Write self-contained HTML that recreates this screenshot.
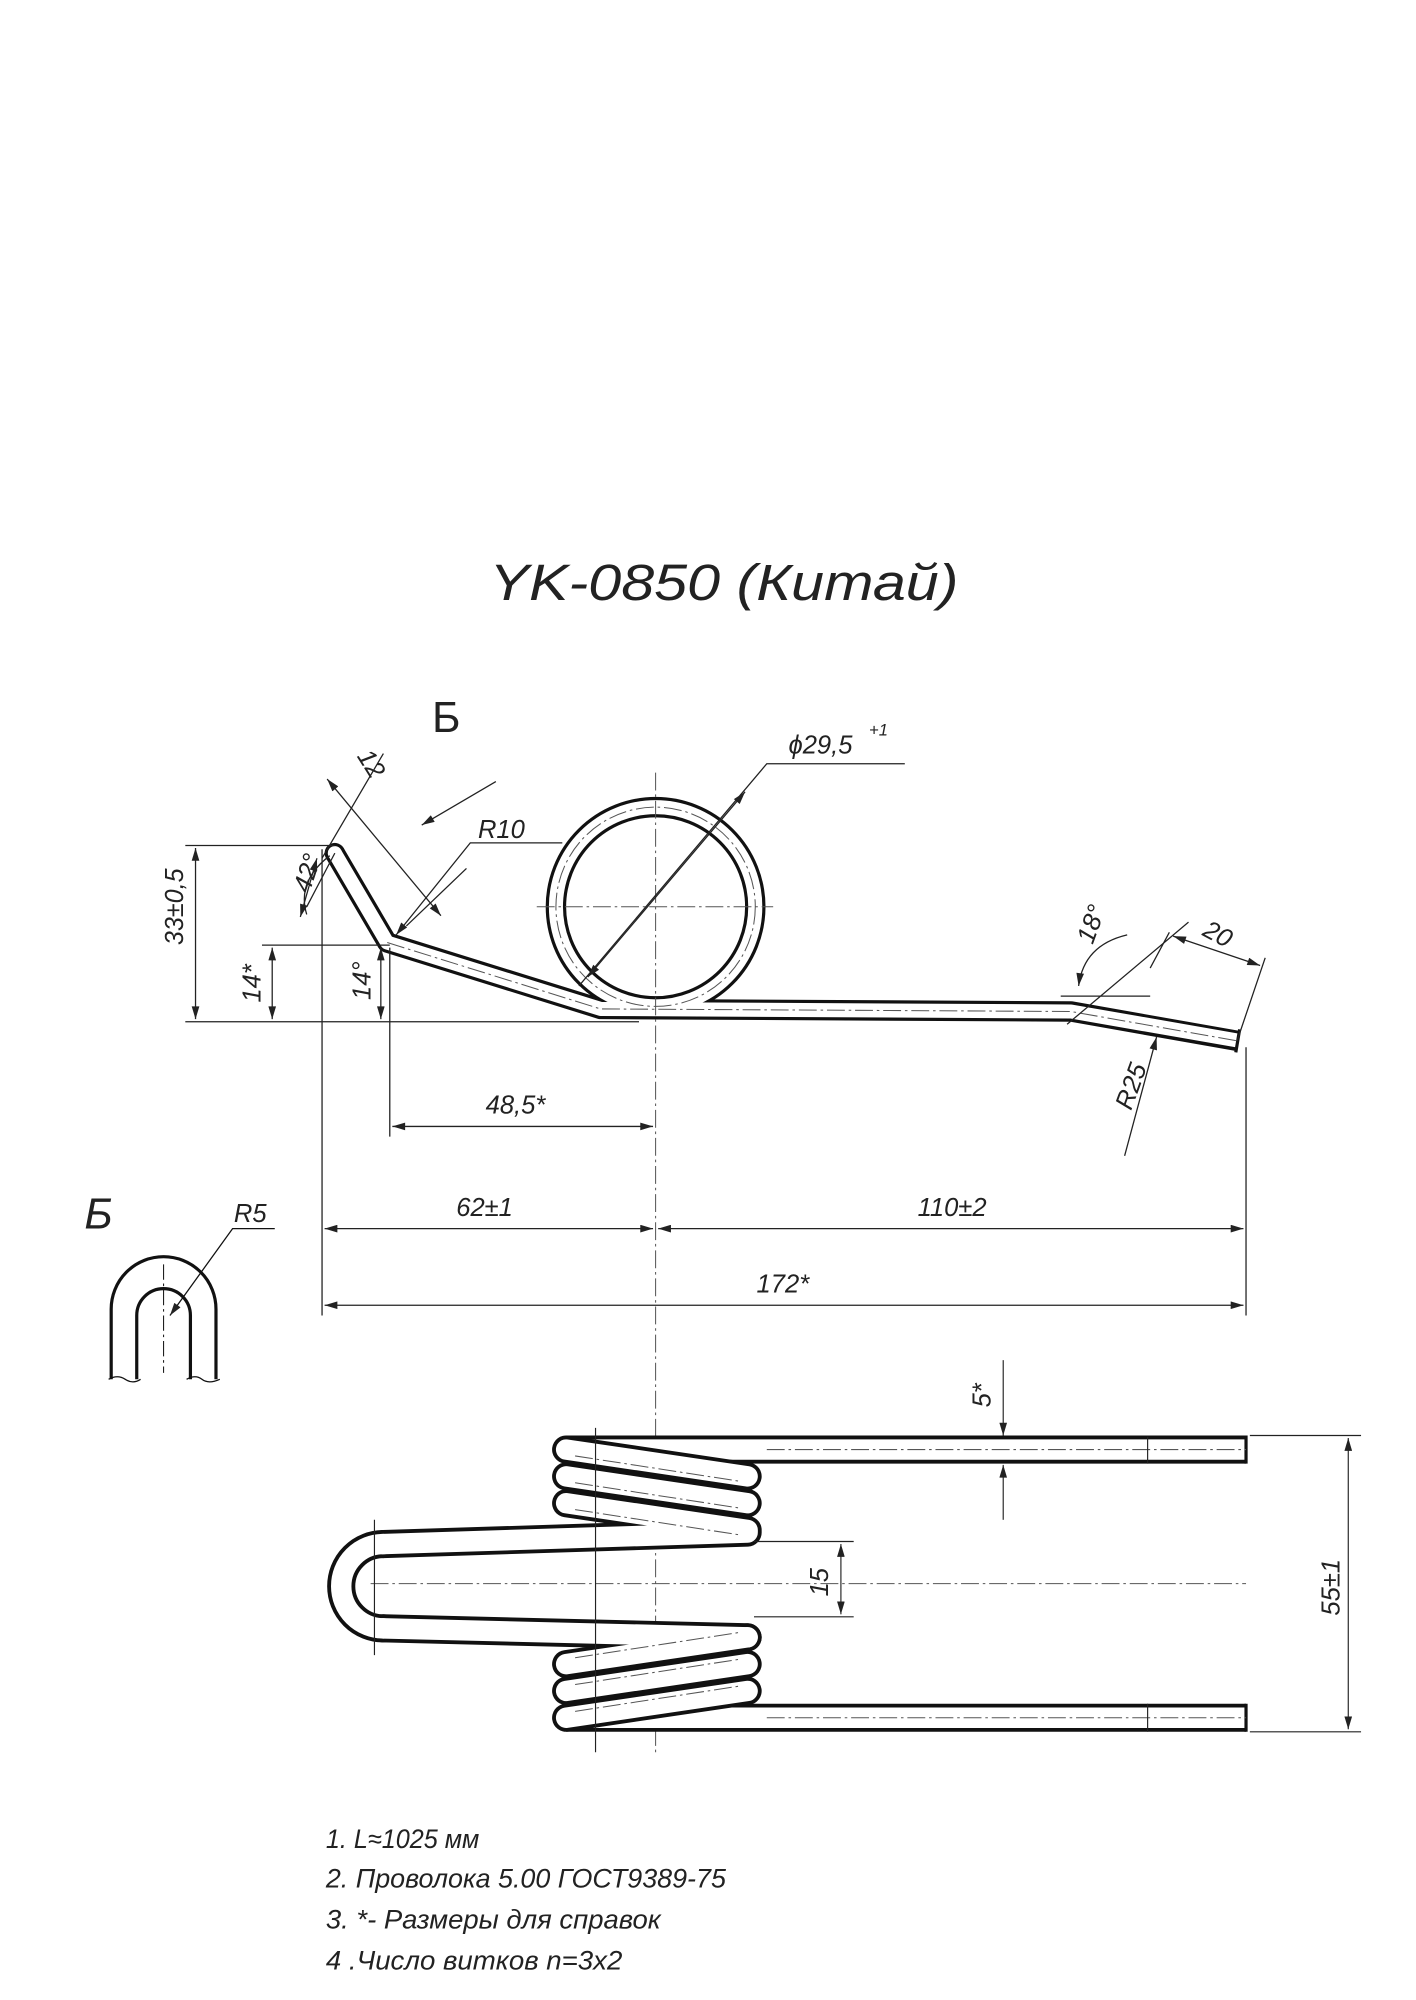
<!DOCTYPE html>
<html><head><meta charset="utf-8">
<style>
html,body{margin:0;padding:0;background:#fff;}
svg{display:block;}
text{font-family:"Liberation Sans","DejaVu Sans",sans-serif;font-style:italic;fill:#222;}
</style></head>
<body>
<svg width="1416" height="2000" viewBox="0 0 1108 1566" preserveAspectRatio="none" xmlns="http://www.w3.org/2000/svg">
<defs>
<marker id="a" viewBox="0 0 10 6" refX="10" refY="3" markerWidth="14" markerHeight="6" markerUnits="userSpaceOnUse" orient="auto-start-reverse">
<path d="M0,0 L10,3 L0,6 Z" fill="#222"/></marker>
</defs>
<rect width="1108" height="1566" fill="#fff"/>

<text x="383" y="470" font-size="40" textLength="367" lengthAdjust="spacingAndGlyphs">YK-0850 (Китай)</text>
<text x="338" y="573" font-size="34" style="font-style:normal">Б</text>

<!-- top view wire -->
<g fill="none" stroke-linejoin="round">
<g stroke="#111" stroke-width="16">
<circle cx="513" cy="710" r="78"/>
<path d="M262,668 L303,738 L470,790 L838,792 L968,815"/>
</g>
<circle cx="262" cy="668" r="8" fill="#111" stroke="none"/>
<g stroke="#fff" stroke-width="11">
<circle cx="513" cy="710" r="78"/>
<path d="M262,668 L303,738 L470,790 L838,792 L970,815"/>
</g>
<circle cx="262" cy="668" r="5.5" fill="#fff" stroke="none"/>
<path d="M970,806 L967,824" stroke="#111" stroke-width="2.5"/>
<g stroke="#555" stroke-width="0.8" stroke-dasharray="14,3,2,3">
<circle cx="513" cy="710" r="78"/>
<path d="M303,738 L470,790 L838,792 L968,815"/>
<path d="M420,710 L605,710 M513,605 L513,1375"/>
</g>
</g>

<!-- dimension lines -->
<g stroke="#222" stroke-width="1" fill="none">
<path d="M145,662 L262,662 M145,800 L500,800 M205,740 L305,740"/>
<path d="M153,664 L153,798" marker-start="url(#a)" marker-end="url(#a)"/>
<path d="M213,742 L213,798" marker-start="url(#a)" marker-end="url(#a)"/>
<path d="M298,742 L298,798" marker-start="url(#a)" marker-end="url(#a)"/>
<path d="M252,665 L252,1030 M975,820 L975,1030 M305,742 L305,890"/>
<path d="M307,882 L511,882" marker-start="url(#a)" marker-end="url(#a)"/>
<path d="M254,962 L511,962" marker-start="url(#a)" marker-end="url(#a)"/>
<path d="M515,962 L973,962" marker-start="url(#a)" marker-end="url(#a)"/>
<path d="M254,1022 L973,1022" marker-start="url(#a)" marker-end="url(#a)"/>
<path d="M252,672 L300,590 M318,725 L365,680"/>
<path d="M256,610 L345,717" marker-start="url(#a)" marker-end="url(#a)"/>
<path d="M262,668 L240,710 M258,670 Q232,690 240,716" />
<path d="M248,672 L235,718" marker-start="url(#a)" marker-end="url(#a)"/>
<path d="M388,612 L330,646" marker-end="url(#a)"/>
<path d="M440,660 L368,660 L310,732" marker-end="url(#a)"/>
<path d="M708,598 L600,598 L453,772"/>
<path d="M583,620 L460,765" marker-start="url(#a)" marker-end="url(#a)"/>
<path d="M830,780 L900,780 M835,802 L930,722"/>
<path d="M882,732 Q848,740 844,772" marker-end="url(#a)"/>
<path d="M900,758 L915,730 M968,815 L990,750"/>
<path d="M918,733 L986,756" marker-start="url(#a)" marker-end="url(#a)"/>
<path d="M880,905 L905,812" marker-end="url(#a)"/>
</g>
<g font-size="20">
<text transform="translate(143,740) rotate(-90)" textLength="60" lengthAdjust="spacingAndGlyphs">33±0,5</text>
<text transform="translate(204,785) rotate(-90)">14*</text>
<text transform="translate(290,783) rotate(-90)">14°</text>
<text transform="translate(242,700) rotate(-72)">42°</text>
<text transform="translate(279,592) rotate(58)">12</text>
<text x="374" y="656">R10</text>
<text x="617" y="590">ϕ29,5</text><text x="680" y="576" font-size="13">+1</text>
<text transform="translate(855,740) rotate(-70)">18°</text>
<text transform="translate(940,732) rotate(28)">20</text>
<text transform="translate(885,870) rotate(-70)">R25</text>
<text x="380" y="872">48,5*</text>
<text x="357" y="952">62±1</text>
<text x="718" y="952">110±2</text>
<text x="592" y="1012">172*</text>
</g>

<!-- section Б -->
<text x="66" y="962" font-size="34">Б</text>
<text x="183" y="957" font-size="20">R5</text>
<g fill="none" stroke="#111">
<path d="M87,1080 L87,1025 A41,41 0 0 1 169,1025 L169,1080" stroke-width="2.5"/>
<path d="M107,1080 L107,1030 A21,21 0 0 1 149,1030 L149,1080" stroke-width="2.5"/>
<path d="M128,990 L128,1075" stroke-width="0.8" stroke-dasharray="12,3,2,3"/>
<path d="M215,962 L182,962 L133,1030" stroke-width="1" marker-end="url(#a)"/>
<path d="M85,1080 Q92,1076 98,1080 T110,1080 M146,1080 Q153,1076 158,1080 T172,1080" stroke-width="1"/>
</g>

<!-- bottom view -->
<g fill="none">
<g stroke="#111" stroke-width="22" stroke-linecap="butt">
<path d="M443,1135 L975,1135 M443,1345 L975,1345"/>
</g>
<g stroke="#fff" stroke-width="16" stroke-linecap="butt">
<path d="M443,1135 L974,1135 M443,1345 L974,1345"/>
</g>
<g stroke="#111" stroke-width="22" stroke-linecap="round">
<path d="M300,1209 L585,1200 M300,1275 L585,1282"/>
<path d="M300,1209 A33,33 0 0 0 300,1275"/>
<path d="M443,1135 L585,1156 M443,1156 L585,1177 M443,1177 L585,1198"/>
<path d="M443,1345 L585,1324 M443,1324 L585,1303 M443,1303 L585,1282"/>
</g>
<g stroke="#fff" stroke-width="16" stroke-linecap="round">
<path d="M300,1209 L585,1200 M300,1275 L585,1282"/>
<path d="M300,1209 A33,33 0 0 0 300,1275"/>
<path d="M443,1177 L585,1198 M443,1156 L585,1177 M443,1135 L585,1156"/>
<path d="M443,1303 L585,1282 M443,1324 L585,1303 M443,1345 L585,1324"/>
</g>
<path d="M975,1124 L975,1146 M975,1334 L975,1356" stroke="#111" stroke-width="2.5"/>
<g stroke="#555" stroke-width="0.8" stroke-dasharray="14,3,2,3">
<path d="M600,1135 L975,1135 M600,1345 L975,1345 M290,1240 L975,1240"/>
<path d="M450,1140 L580,1160 M450,1161 L580,1181 M450,1182 L580,1202 M450,1340 L580,1320 M450,1319 L580,1299 M450,1298 L580,1278"/>
</g>
<g stroke="#222" stroke-width="0.9">
<path d="M466,1118 L466,1372 M293,1190 L293,1296 M898,1125 L898,1146 M898,1334 L898,1356"/>
<path d="M590,1207 L668,1207 M590,1266 L668,1266"/>
<path d="M658,1209 L658,1264" marker-start="url(#a)" marker-end="url(#a)"/>
<path d="M785,1065 L785,1124" marker-end="url(#a)"/>
<path d="M785,1190 L785,1147" marker-end="url(#a)"/>
<path d="M978,1124 L1065,1124 M978,1356 L1065,1356"/>
<path d="M1055,1126 L1055,1354" marker-start="url(#a)" marker-end="url(#a)"/>
</g>
</g>
<g font-size="20">
<text transform="translate(648,1250) rotate(-90)">15</text>
<text transform="translate(775,1102) rotate(-90)">5*</text>
<text transform="translate(1048,1265) rotate(-90)">55±1</text>
</g>

<g font-size="21">
<text x="255" y="1447" textLength="120" lengthAdjust="spacingAndGlyphs">1. L≈1025 мм</text>
<text x="255" y="1478" textLength="313" lengthAdjust="spacingAndGlyphs">2. Проволока 5.00 ГОСТ9389-75</text>
<text x="255" y="1510" textLength="262" lengthAdjust="spacingAndGlyphs">3. *- Размеры для справок</text>
<text x="255" y="1542" textLength="232" lengthAdjust="spacingAndGlyphs">4 .Число витков n=3x2</text>
</g>
</svg>
</body></html>
